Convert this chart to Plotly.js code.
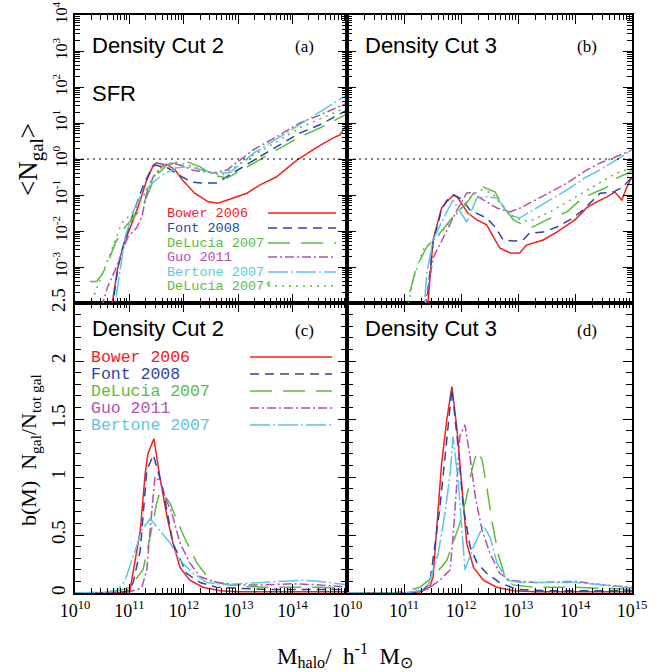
<!DOCTYPE html>
<html>
<head>
<meta charset="utf-8">
<script src="https://cdn.plot.ly/plotly-3.0.1.min.js"></script>
<style>html,body{margin:0;padding:0;background:#fff;}#chart{width:667px;height:672px;}</style>
</head>
<body>
<div id="chart"></div>
<script>
// ---------- DATA (x = log10 Mhalo) ----------
// Panel (a): Density Cut 2, log10 <Ngal>
const a_bower_x = [10.62,10.68,10.79,10.88,11.01,11.16,11.32,11.44,11.5,11.6,11.71,11.84,11.97,12.2,12.45,12.63,12.9,13.16,13.4,13.7,14.08,14.45,14.74,14.87,15.0];
const a_bower_y = [-4.6,-4.0,-3.0,-2.44,-1.92,-1.33,-0.58,-0.17,-0.11,-0.13,-0.17,-0.3,-0.58,-0.95,-1.19,-1.23,-1.09,-0.95,-0.72,-0.5,-0.03,0.33,0.58,0.67,0.97];
const a_font_x = [10.62,10.7,10.79,10.88,11.07,11.25,11.42,11.47,11.71,11.97,12.15,12.33,12.6,12.76,12.9,13.27,13.7,14.13,14.5,14.75,15.0];
const a_font_y = [-4.6,-4.0,-3.0,-2.45,-1.5,-0.76,-0.22,-0.17,-0.25,-0.5,-0.64,-0.67,-0.67,-0.53,-0.39,-0.05,0.33,0.72,0.95,1.15,1.36];
const a_delucia_x = [10.28,10.4,10.5,10.59,10.74,10.92,11.23,11.42,11.5,11.69,11.93,12.05,12.3,12.55,12.8,13.28,13.7,14.13,14.5,14.75,15.0];
const a_delucia_y = [-3.4,-3.4,-3.2,-2.94,-2.33,-1.89,-1.36,-0.67,-0.44,-0.17,-0.08,-0.07,-0.22,-0.45,-0.53,-0.11,0.25,0.61,0.86,1.05,1.25];
const a_guo_x = [10.45,10.51,10.6,10.74,10.97,11.13,11.23,11.32,11.44,11.62,11.8,12.0,12.17,12.54,12.8,13.27,13.7,14.13,14.5,14.75,15.0];
const a_guo_y = [-4.6,-4.0,-3.55,-3.08,-2.17,-1.92,-1.6,-0.94,-0.5,-0.17,-0.11,-0.2,-0.31,-0.39,-0.3,0.25,0.61,1.0,1.22,1.38,1.55];
const a_bertone_x = [10.68,10.74,10.83,10.92,11.07,11.19,11.42,11.6,11.84,12.02,12.2,12.54,12.85,13.27,13.7,14.13,14.5,15.0];
const a_bertone_y = [-4.6,-4.0,-3.0,-2.17,-1.47,-1.06,-0.67,-0.45,-0.25,-0.22,-0.25,-0.39,-0.38,0.15,0.55,0.95,1.3,1.78];
const a_deluciaS_x = [10.2,10.28,10.37,10.7,10.86,11.1,11.29,11.47,11.65,11.84,12.08,12.45,12.7,13.27,13.7,14.13,14.5,15.0];
const a_deluciaS_y = [-4.3,-4.0,-3.72,-2.44,-1.78,-1.42,-0.95,-0.39,-0.17,-0.08,-0.17,-0.36,-0.45,0.1,0.47,0.87,1.12,1.44];

// Panel (b): Density Cut 3, log10 <Ngal>
const b_bower_x = [11.38,11.42,11.51,11.66,11.75,11.87,11.93,12.12,12.28,12.45,12.57,12.68,12.86,13.03,13.15,13.44,13.68,13.86,14.0,14.2,14.38,14.56,14.7,14.82,14.91,15.0];
const b_bower_y = [-4.6,-4.0,-2.25,-1.36,-1.19,-1.0,-1.05,-1.5,-1.69,-1.83,-2.17,-2.47,-2.61,-2.61,-2.39,-2.25,-2.03,-1.83,-1.69,-1.36,-1.19,-1.05,-0.92,-1.14,-0.78,-0.5];
const b_font_x = [11.36,11.4,11.51,11.66,11.75,11.87,12.0,12.16,12.45,12.6,12.74,12.92,13.09,13.2,13.44,13.68,13.91,14.14,14.44,14.67,14.84,15.0];
const b_font_y = [-4.6,-4.0,-2.3,-1.4,-1.15,-1.0,-1.1,-1.42,-1.64,-1.89,-2.25,-2.28,-2.25,-2.06,-2.03,-1.89,-1.69,-1.42,-0.95,-0.92,-0.78,-0.5];
const b_delucia_x = [11.0,11.05,11.22,11.4,11.63,11.86,12.1,12.28,12.39,12.6,12.74,12.92,13.03,13.26,13.5,13.86,14.09,14.32,14.56,14.73,14.93,15.0];
const b_delucia_y = [-4.6,-4.0,-3.0,-2.44,-2.06,-1.6,-1.22,-0.81,-0.78,-0.92,-1.33,-1.69,-1.78,-1.89,-1.69,-1.47,-1.14,-0.95,-0.78,-0.53,-0.39,-0.33];
const b_guo_x = [11.3,11.38,11.51,11.75,11.93,12.1,12.2,12.33,12.63,12.86,13.04,13.21,13.56,13.86,14.2,14.44,14.67,15.0];
const b_guo_y = [-4.6,-4.0,-2.75,-1.97,-1.42,-0.95,-0.92,-1.08,-1.36,-1.47,-1.36,-1.22,-0.92,-0.67,-0.31,-0.11,0.03,0.25];
const b_bertone_x = [11.3,11.36,11.4,11.51,11.75,11.86,12.1,12.28,12.45,12.63,12.86,13.03,13.26,13.56,13.86,14.2,14.44,14.67,15.0];
const b_bertone_y = [-4.6,-4.0,-3.17,-2.25,-1.47,-1.14,-1.75,-1.08,-1.05,-1.08,-1.56,-1.64,-1.42,-1.14,-0.86,-0.5,-0.3,-0.08,0.25];
const b_deluciaS_x = [11.02,11.08,11.16,11.33,11.58,11.8,12.0,12.2,12.35,12.55,12.75,12.95,13.15,13.26,13.56,13.86,14.14,14.44,14.73,15.0];
const b_deluciaS_y = [-4.6,-4.0,-3.36,-2.53,-2.17,-1.75,-1.4,-1.0,-0.85,-0.95,-1.35,-1.65,-1.72,-1.69,-1.47,-1.19,-0.92,-0.64,-0.39,-0.25];

// Panel (c): Density Cut 2, b(M) Ngal/Ntot gal
const c_bower_x = [10.0,10.5,10.9,11.01,11.05,11.1,11.2,11.29,11.34,11.45,11.56,11.69,11.8,11.93,12.11,12.35,12.67,13.0,13.5,14.0,14.5,15.0];
const c_bower_y = [0,0,0.005,0.02,0.13,0.26,0.54,1.03,1.2,1.33,1.0,0.66,0.43,0.22,0.11,0.05,0.02,0.01,0.01,0.01,0.01,0.01];
const c_font_x = [10.0,10.5,10.9,11.0,11.07,11.2,11.32,11.44,11.62,11.8,12.05,12.3,12.6,13.0,13.5,14.0,14.5,15.0];
const c_font_y = [0,0,0.01,0.03,0.09,0.37,1.06,1.19,0.89,0.43,0.17,0.09,0.05,0.04,0.03,0.03,0.03,0.03];
const c_delucia_x = [10.0,10.5,10.8,11.01,11.25,11.38,11.5,11.56,11.6,11.75,11.87,12.02,12.24,12.48,12.72,13.0,13.5,14.0,14.5,15.0];
const c_delucia_y = [0,0.005,0.02,0.05,0.2,0.48,0.77,0.87,0.87,0.77,0.63,0.47,0.26,0.11,0.08,0.06,0.05,0.05,0.05,0.04];
const c_guo_x = [10.0,10.5,11.0,11.15,11.23,11.32,11.38,11.47,11.56,11.65,11.78,11.93,12.11,12.3,12.6,13.0,13.5,14.0,14.5,15.0];
const c_guo_y = [0,0,0.01,0.03,0.05,0.2,0.54,1.0,0.97,0.83,0.69,0.43,0.26,0.14,0.09,0.07,0.07,0.08,0.07,0.05];
const c_bertone_x = [10.0,10.5,10.75,10.83,10.92,11.07,11.23,11.38,11.56,11.75,11.93,12.17,12.43,12.8,13.0,13.5,14.0,14.2,14.5,15.0];
const c_bertone_y = [0,0.005,0.02,0.05,0.11,0.31,0.54,0.64,0.54,0.43,0.28,0.17,0.09,0.07,0.08,0.09,0.1,0.11,0.1,0.07];

// Panel (d): Density Cut 3, b(M) Ngal/Ntot gal
const d_bower_x = [10.0,11.0,11.3,11.45,11.51,11.6,11.66,11.75,11.84,11.93,12.02,12.1,12.22,12.39,12.63,12.92,13.3,14.0,15.0];
const d_bower_y = [0,0,0.01,0.05,0.14,0.69,1.12,1.49,1.78,1.41,0.89,0.43,0.22,0.11,0.05,0.02,0.01,0.01,0.01];
const d_font_x = [10.0,11.0,11.3,11.45,11.54,11.63,11.75,11.84,11.95,12.04,12.16,12.28,12.45,12.68,12.98,13.5,14.0,15.0];
const d_font_y = [0,0,0.01,0.08,0.4,0.74,1.32,1.76,1.26,0.74,0.4,0.26,0.17,0.09,0.03,0.02,0.02,0.02];
const d_delucia_x = [10.0,10.8,11.05,11.28,11.51,11.75,11.86,11.98,12.1,12.19,12.28,12.37,12.46,12.54,12.65,12.77,12.91,13.3,14.0,14.5,15.0];
const d_delucia_y = [0,0,0.02,0.05,0.14,0.28,0.43,0.6,0.83,1.06,1.22,1.15,0.89,0.63,0.34,0.14,0.07,0.05,0.05,0.04,0.03];
const d_guo_x = [10.0,11.0,11.4,11.63,11.81,11.86,11.93,11.98,12.07,12.16,12.25,12.37,12.51,12.68,12.86,13.3,14.0,14.5,15.0];
const d_guo_y = [0,0,0.03,0.11,0.2,0.48,0.97,1.35,1.45,1.17,0.83,0.54,0.34,0.17,0.11,0.09,0.1,0.07,0.05];
const d_bertone_x = [10.0,11.0,11.4,11.6,11.72,11.81,11.86,11.95,12.02,12.07,12.22,12.39,12.51,12.63,12.81,13.04,14.0,14.5,15.0];
const d_bertone_y = [0,0,0.03,0.34,0.69,1.03,1.35,0.97,0.52,0.2,0.4,0.58,0.48,0.26,0.11,0.09,0.09,0.07,0.04];

const modelNames = ['Bower 2006','Font 2008','DeLucia 2007','Guo 2011','Bertone 2007','DeLucia 2007*'];
const xTickVals = [10,11,12,13,14,15];
const yTickValsA = [-3,-2,-1,0,1,2,3,4];
const yTickValsC = [0,0.5,1,1.5,2,2.5];

// ---------- STYLE ----------
const C = {red:'#f2201c', blue:'#2c44a6', green:'#5bbb3e', mag:'#b44fae', cyan:'#5cc6e2'};
const styles = [
  {color:C.red,  dash:'solid'},
  {color:C.blue, dash:'9px,6px'},
  {color:C.green,dash:'22px,11px'},
  {color:C.mag,  dash:'9px,3px,2px,3px'},
  {color:C.cyan, dash:'20px,3px,2px,3px'},
  {color:C.green,dash:'2px,5px'}
];
const pow10 = a => a.map(v => Math.pow(10, v));

function tr(xs, ys, si, xa, ya, logy) {
  return {type:'scatter', mode:'lines', x:pow10(xs), y: logy ? pow10(ys) : ys,
    xaxis:xa, yaxis:ya, showlegend:false, hoverinfo:'skip',
    line:{color:styles[si].color, dash:styles[si].dash, width:1.5}};
}
const data = [
  tr(a_bower_x,a_bower_y,0,'x3','y3',true),
  tr(a_font_x,a_font_y,1,'x3','y3',true),
  tr(a_delucia_x,a_delucia_y,2,'x3','y3',true),
  tr(a_guo_x,a_guo_y,3,'x3','y3',true),
  tr(a_bertone_x,a_bertone_y,4,'x3','y3',true),
  tr(a_deluciaS_x,a_deluciaS_y,5,'x3','y3',true),
  tr(b_bower_x,b_bower_y,0,'x4','y4',true),
  tr(b_font_x,b_font_y,1,'x4','y4',true),
  tr(b_delucia_x,b_delucia_y,2,'x4','y4',true),
  tr(b_guo_x,b_guo_y,3,'x4','y4',true),
  tr(b_bertone_x,b_bertone_y,4,'x4','y4',true),
  tr(b_deluciaS_x,b_deluciaS_y,5,'x4','y4',true),
  tr(c_bower_x,c_bower_y,0,'x','y',false),
  tr(c_font_x,c_font_y,1,'x','y',false),
  tr(c_delucia_x,c_delucia_y,2,'x','y',false),
  tr(c_guo_x,c_guo_y,3,'x','y',false),
  tr(c_bertone_x,c_bertone_y,4,'x','y',false),
  tr(d_bower_x,d_bower_y,0,'x2','y2',false),
  tr(d_font_x,d_font_y,1,'x2','y2',false),
  tr(d_delucia_x,d_delucia_y,2,'x2','y2',false),
  tr(d_guo_x,d_guo_y,3,'x2','y2',false),
  tr(d_bertone_x,d_bertone_y,4,'x2','y2',false)
];

const W = 667, H = 672;
const px = v => v / W, py = v => 1 - v / H;
const XL = [px(75), px(347)], XR = [px(347), px(632)];
const YT = [py(303), py(15)], YB = [py(593), py(303)];

const serif = 'Liberation Serif, Times New Roman, serif';
const sans = 'Liberation Sans, Arial, sans-serif';
const mono = 'Liberation Mono, Courier New, monospace';

function baseAxis(extra) {
  return Object.assign({
    showline:true, linecolor:'#000', linewidth:2, mirror:'allticks',
    ticks:'inside', ticklen:9, tickwidth:1, tickcolor:'#000',
    showgrid:false, zeroline:false, fixedrange:true,
    tickfont:{family:serif, size:18, color:'#000'}
  }, extra);
}
function logX(domain, anchor, labels) {
  const vals = labels ? xTickVals.slice(0, labels) : xTickVals;
  return baseAxis({type:'log', domain:domain, anchor:anchor, range:[10,15],
    tickmode:'array', tickvals:pow10(vals),
    ticktext: vals.map(v => '10<sup>' + v + '</sup>'),
    showticklabels: !!labels,
    minor:{dtick:'D1', ticks:'inside', ticklen:5, tickwidth:1, tickcolor:'#000', showgrid:false}});
}
function logY(domain, anchor, labels) {
  return baseAxis({type:'log', domain:domain, anchor:anchor, range:[-4,4],
    tickmode:'array', tickvals:pow10(yTickValsA),
    ticktext: yTickValsA.map(v => '10<sup>' + v + '</sup>'),
    showticklabels: labels, tickangle:-90, tickfont:{family:serif, size:16, color:'#000'},
    minor:{dtick:'D1', ticks:'inside', ticklen:5, tickwidth:1, tickcolor:'#000', showgrid:false}});
}
function linY(domain, anchor, labels) {
  return baseAxis({type:'linear', domain:domain, anchor:anchor, range:[0,2.5],
    tickmode:'array', tickvals:yTickValsC, ticktext:yTickValsC.map(String),
    showticklabels: labels, tickangle:-90, tickfont:{family:serif, size:19, color:'#000'},
    minor:{dtick:0.1, ticks:'inside', ticklen:6, tickwidth:1, tickcolor:'#000', showgrid:false}});
}

const annotations = [];
function ann(x, y, text, font, opts) {
  annotations.push(Object.assign({xref:'paper', yref:'paper', x:px(x), y:py(y), text:text,
    showarrow:false, xanchor:'left', yanchor:'middle', font:font}, opts || {}));
}
const titleFont = {family:sans, size:22, color:'#000'};
const labFont = {family:serif, size:17, color:'#000'};
ann(90, 46, 'Density Cut 2', titleFont);
ann(90, 94, 'SFR', titleFont);
ann(293, 47, '(a)', labFont);
ann(363, 46, 'Density Cut 3', titleFont);
ann(575, 47, '(b)', labFont);
ann(90, 328, 'Density Cut 2', titleFont);
ann(293, 330, '(c)', labFont);
ann(363, 328, 'Density Cut 3', titleFont);
ann(575, 330, '(d)', labFont);

// axis titles
ann(30, 160, '&lt;N<sub>gal</sub>&gt;', {family:serif, size:27, color:'#000'}, {xanchor:'center', textangle:-90});
ann(30, 450, 'b(M)  N<sub>gal</sub>/N<sub>tot gal</sub>', {family:serif, size:22, color:'#000'}, {xanchor:'center', textangle:-90});
ann(345, 655, 'M<sub>halo</sub>/  h<sup>-1</sup>  M<sub>⊙</sub>', {family:serif, size:23, color:'#000'}, {xanchor:'center'});

const shapes = [];
// legend panel (a)
const legAy = [213, 228, 243, 257, 272, 286];
modelNames.forEach((n, i) => {
  ann(166, legAy[i], n, {family:mono, size:13.5, color:styles[i].color}, {height:14, borderpad:0});
  shapes.push({type:'line', xref:'paper', yref:'paper', x0:px(268), x1:px(336), y0:py(legAy[i]), y1:py(legAy[i]),
    line:{color:styles[i].color, dash:styles[i].dash, width:1.5}});
});
// legend panel (c)
const legCy = [357, 374, 391, 408, 425];
modelNames.slice(0, 5).forEach((n, i) => {
  ann(90, legCy[i], n, {family:mono, size:16.5, color:styles[i].color}, {height:16, borderpad:0});
  shapes.push({type:'line', xref:'paper', yref:'paper', x0:px(250), x1:px(332), y0:py(legCy[i]), y1:py(legCy[i]),
    line:{color:styles[i].color, dash:styles[i].dash, width:1.5}});
});
// N = 1 reference lines in panels (a) and (b)
['x3', 'x4'].forEach((xa, k) => {
  shapes.push({type:'line', xref: xa + ' domain', yref: k ? 'y4' : 'y3', x0:0, x1:1, y0:1, y1:1,
    line:{color:'#000', dash:'2px,4px', width:1.2}});
});

const layout = {
  width:W, height:H, margin:{l:0, r:0, t:0, b:0},
  paper_bgcolor:'#fff', plot_bgcolor:'#fff', showlegend:false,
  xaxis: logX(XL, 'y', 5),
  yaxis: linY(YB, 'x', true),
  xaxis2: logX(XR, 'y2', 6),
  yaxis2: linY(YB, 'x2', false),
  xaxis3: logX(XL, 'y3', 0),
  yaxis3: logY(YT, 'x3', true),
  xaxis4: logX(XR, 'y4', 0),
  yaxis4: logY(YT, 'x4', false),
  annotations: annotations,
  shapes: shapes
};
Plotly.newPlot('chart', data, layout, {staticPlot:true, displayModeBar:false});
</script>
</body>
</html>
